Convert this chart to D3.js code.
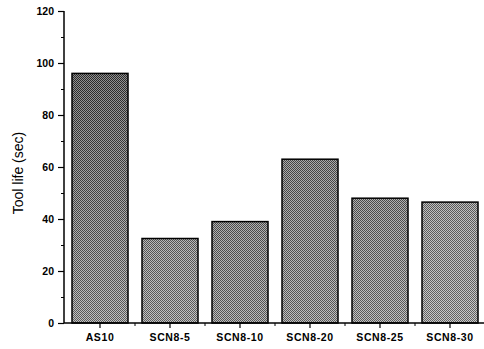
<!DOCTYPE html>
<html><head><meta charset="utf-8">
<script src="https://cdn.jsdelivr.net/npm/d3@7"></script>
<style>body{margin:0;background:#fff}svg{display:block}</style>
</head><body><svg id="c" width="484" height="349"></svg>
<script>
const categories = ["AS10","SCN8-5","SCN8-10","SCN8-20","SCN8-25","SCN8-30"];
const toolLife = [96, 32.5, 39, 63, 48, 46.5];
const yTicks = [0,20,40,60,80,100,120];
const yMinorTicks = [10,30,50,70,90,110];
const yLabel = "Tool life (sec)";
const barTopColor = ["#444","#8a8a8a","#7a7a7a","#707070","#7a7a7a","#959595"];
const barBottomColor = ["#999","#9a9a9a","#909090","#959595","#9a9a9a","#a5a5a5"];

const svg = d3.select("#c");
const x = d3.scaleBand().domain(categories).range([65,485]).paddingInner(0.2).paddingOuter(0.1);
const y = d3.scaleLinear().domain([0,120]).range([323,11]);

const defs = svg.append("defs");
const pat = defs.append("pattern").attr("id","dither").attr("width",2).attr("height",2).attr("patternUnits","userSpaceOnUse");
pat.append("rect").attr("width",1).attr("height",1).attr("fill","#000").attr("opacity",0.4);
pat.append("rect").attr("x",1).attr("y",1).attr("width",1).attr("height",1).attr("fill","#000").attr("opacity",0.4);
pat.append("rect").attr("x",1).attr("width",1).attr("height",1).attr("fill","#fff").attr("opacity",0.4);
pat.append("rect").attr("y",1).attr("width",1).attr("height",1).attr("fill","#fff").attr("opacity",0.4);
categories.forEach((c,i)=>{
  const g = defs.append("linearGradient").attr("id","g"+i).attr("x1",0).attr("y1",0).attr("x2",0).attr("y2",1);
  g.append("stop").attr("offset","0%").attr("stop-color",barTopColor[i]);
  g.append("stop").attr("offset","100%").attr("stop-color",barBottomColor[i]);
});

const bars = svg.append("g");
bars.selectAll("rect.b").data(categories).join("rect").attr("class","b")
  .attr("x",d=>x(d)).attr("width",x.bandwidth())
  .attr("y",(d,i)=>y(toolLife[i])).attr("height",(d,i)=>y(0)-y(toolLife[i]))
  .attr("fill",(d,i)=>"url(#g"+i+")");
bars.selectAll("rect.d").data(categories).join("rect").attr("class","d")
  .attr("x",d=>x(d)).attr("width",x.bandwidth())
  .attr("y",(d,i)=>y(toolLife[i])).attr("height",(d,i)=>y(0)-y(toolLife[i]))
  .attr("fill","url(#dither)").attr("stroke","#000").attr("stroke-width",1.5);

const font = "Arial, 'Liberation Sans', sans-serif";
// y axis
const ya = svg.append("g").attr("transform","translate(64,0)")
  .call(d3.axisLeft(y).tickValues(yTicks).tickSize(6).tickPadding(4).tickFormat(d3.format("d")));
ya.select(".domain").attr("d",`M0,${y(120)}V${y(0)}`).attr("stroke-width",1.5);
ya.selectAll("text").attr("font-family",font).attr("font-size",10.5).attr("font-weight","bold");
ya.selectAll("line").attr("stroke-width",1.2);
svg.append("g").attr("transform","translate(64,0)")
  .call(d3.axisLeft(y).tickValues(yMinorTicks).tickSize(3).tickFormat(""))
  .call(g=>g.select(".domain").remove());

// x axis
const xa = svg.append("g").attr("transform",`translate(0,${y(0)})`)
  .call(d3.axisBottom(x).tickSize(5).tickPadding(6));
xa.select(".domain").attr("d",`M64,0H484`).attr("stroke-width",1.5);
xa.selectAll("text").attr("font-family",font).attr("font-size",10.5).attr("font-weight","bold").attr("letter-spacing",0.6);
xa.selectAll("line").attr("stroke-width",1.2);
const bounds = categories.slice(1).map(c=>x(c)-x.step()*x.paddingInner()/2);
svg.append("g").selectAll("line").data(bounds).join("line")
  .attr("x1",d=>d).attr("x2",d=>d).attr("y1",y(0)).attr("y2",y(0)+3).attr("stroke","#000").attr("stroke-width",1);

svg.append("text").attr("transform",`translate(23,${(y(0)+y(120))/2 + 6}) rotate(-90)`)
  .attr("text-anchor","middle").attr("font-family",font).attr("font-size",14).text(yLabel);
</script></body></html>
